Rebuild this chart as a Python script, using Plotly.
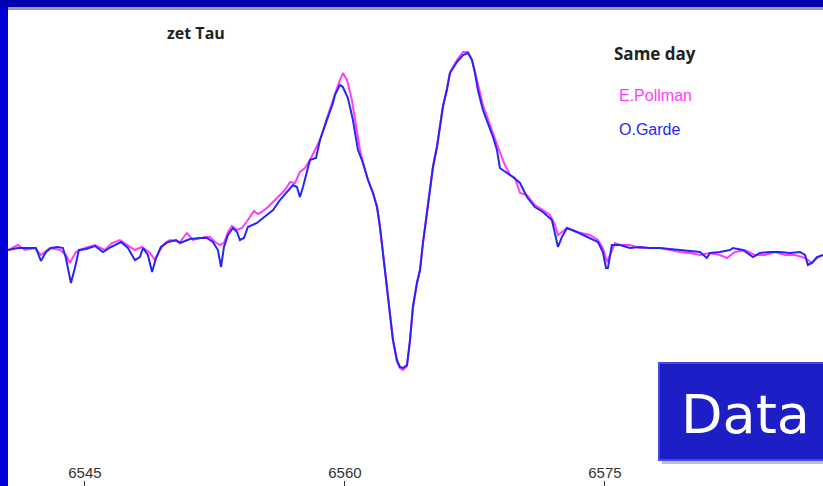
import plotly.graph_objects as go

# O.Garde spectrum (wavelength in Angstrom, relative flux)
garde_wl = [6540.56, 6541.13, 6541.71, 6542.17, 6542.46, 6542.75, 6543.04, 6543.44, 6543.73, 6543.90,
            6544.19, 6544.42, 6544.65, 6545.06, 6545.58, 6546.04, 6546.50, 6547.08, 6547.48, 6547.88,
            6548.17, 6548.35, 6548.63, 6548.87, 6549.10, 6549.38, 6549.79, 6550.25, 6550.48, 6551.06,
            6551.63, 6552.04, 6552.38, 6552.67, 6552.85, 6553.02, 6553.25, 6553.54, 6553.77, 6553.94,
            6554.17, 6554.40, 6554.92, 6555.50, 6555.85, 6556.25, 6556.65, 6557.00, 6557.23, 6557.40,
            6557.58, 6557.81, 6557.98, 6558.33, 6558.56, 6558.96, 6559.31, 6559.42, 6559.71, 6559.88,
            6560.17, 6560.46, 6560.75, 6561.04, 6561.33, 6561.62, 6561.85, 6562.02, 6562.19, 6562.42,
            6562.60, 6562.77, 6563.00, 6563.17, 6563.35, 6563.58, 6563.75, 6563.92, 6564.15, 6564.33,
            6564.50, 6564.73, 6564.90, 6565.08, 6565.31, 6565.48, 6565.65, 6565.88, 6566.06, 6566.46,
            6566.81, 6567.10, 6567.33, 6567.50, 6567.67, 6567.96, 6568.25, 6568.54, 6568.77, 6568.94,
            6569.35, 6569.69, 6570.10, 6570.50, 6570.96, 6571.42, 6571.94, 6572.12, 6572.29, 6572.52,
            6572.81, 6573.38, 6573.96, 6574.60, 6574.88, 6575.06, 6575.17, 6575.40, 6575.87, 6576.44,
            6577.02, 6577.60, 6578.17, 6578.75, 6579.33, 6579.90, 6580.48, 6580.88, 6581.06, 6581.63,
            6582.21, 6582.38, 6582.96, 6583.54, 6583.94, 6584.52, 6585.10, 6585.67, 6586.25, 6586.54,
            6586.71, 6586.94, 6587.23, 6587.58]
garde_flux = [0.990, 1.000, 1.000, 1.000, 0.935, 0.980, 1.000, 1.005, 1.000, 0.950,
              0.825, 0.900, 0.990, 0.995, 1.010, 0.980, 1.005, 1.030, 1.000, 0.940,
              0.955, 1.000, 0.965, 0.880, 0.950, 1.005, 1.030, 1.040, 1.025, 1.045,
              1.050, 1.050, 1.030, 0.990, 0.905, 1.005, 1.065, 1.100, 1.080, 1.040,
              1.050, 1.105, 1.125, 1.165, 1.190, 1.240, 1.280, 1.315, 1.305, 1.255,
              1.305, 1.390, 1.440, 1.450, 1.540, 1.640, 1.725, 1.765, 1.815, 1.805,
              1.750, 1.640, 1.490, 1.425, 1.340, 1.275, 1.205, 1.105, 0.975, 0.825,
              0.675, 0.540, 0.440, 0.405, 0.400, 0.415, 0.540, 0.705, 0.825, 0.890,
              1.025, 1.175, 1.290, 1.405, 1.505, 1.605, 1.705, 1.790, 1.875, 1.930,
              1.965, 1.975, 1.940, 1.875, 1.790, 1.690, 1.625, 1.555, 1.490, 1.400,
              1.375, 1.355, 1.325, 1.255, 1.205, 1.180, 1.140, 1.075, 1.005, 1.055,
              1.100, 1.080, 1.055, 1.030, 0.980, 0.900, 0.900, 1.015, 1.015, 1.000,
              1.005, 1.000, 1.000, 0.995, 0.990, 0.985, 0.980, 0.950, 0.975, 0.980,
              0.990, 1.000, 0.990, 0.955, 0.975, 0.980, 0.980, 0.975, 0.980, 0.965,
              0.915, 0.925, 0.955, 0.965]

# E.Pollman spectrum
pollman_wl = [6540.56, 6541.13, 6541.54, 6542.12, 6542.46, 6542.98, 6543.56, 6543.90, 6544.13, 6544.48,
              6545.00, 6545.58, 6546.15, 6546.56, 6547.02, 6547.48, 6547.88, 6548.29, 6548.75, 6549.04,
              6549.33, 6549.62, 6549.90, 6550.48, 6550.88, 6551.23, 6551.92, 6552.21, 6552.50, 6552.79,
              6553.02, 6553.25, 6553.48, 6553.77, 6554.06, 6554.40, 6554.75, 6554.98, 6555.21, 6555.56,
              6555.85, 6556.25, 6556.54, 6556.83, 6557.12, 6557.40, 6557.69, 6557.98, 6558.27, 6558.56,
              6558.96, 6559.31, 6559.60, 6559.88, 6560.12, 6560.40, 6560.69, 6560.87, 6561.04, 6561.33,
              6561.62, 6561.85, 6562.02, 6562.19, 6562.42, 6562.60, 6562.77, 6563.00, 6563.17, 6563.35,
              6563.58, 6563.75, 6563.92, 6564.15, 6564.33, 6564.50, 6564.73, 6564.90, 6565.08, 6565.31,
              6565.48, 6565.65, 6565.88, 6566.06, 6566.46, 6566.81, 6567.10, 6567.33, 6567.62, 6567.96,
              6568.37, 6568.77, 6568.94, 6569.23, 6569.52, 6569.81, 6570.10, 6570.50, 6570.96, 6571.42,
              6571.83, 6572.12, 6572.29, 6572.52, 6572.81, 6573.38, 6574.13, 6574.60, 6574.88, 6575.12,
              6575.35, 6575.58, 6575.87, 6576.44, 6577.02, 6577.60, 6578.17, 6578.75, 6579.33, 6579.90,
              6580.48, 6581.06, 6581.63, 6582.04, 6582.50, 6583.08, 6583.65, 6584.23, 6584.81, 6585.38,
              6585.96, 6586.54, 6586.94, 6587.23, 6587.58]
pollman_flux = [0.990, 1.015, 0.990, 1.000, 0.965, 1.000, 0.990, 0.965, 0.925, 0.980,
                1.000, 1.015, 0.990, 1.025, 1.040, 1.015, 0.990, 1.005, 0.975, 0.940,
                0.990, 1.025, 1.040, 1.030, 1.075, 1.040, 1.055, 1.055, 1.030, 1.015,
                1.025, 1.080, 1.110, 1.090, 1.100, 1.140, 1.185, 1.170, 1.180, 1.205,
                1.230, 1.260, 1.290, 1.330, 1.325, 1.380, 1.400, 1.440, 1.490, 1.540,
                1.650, 1.740, 1.815, 1.875, 1.840, 1.740, 1.590, 1.490, 1.425, 1.340,
                1.275, 1.205, 1.105, 0.975, 0.825, 0.675, 0.540, 0.430, 0.400, 0.390,
                0.410, 0.530, 0.700, 0.820, 0.890, 1.025, 1.180, 1.295, 1.410, 1.510,
                1.610, 1.710, 1.795, 1.880, 1.940, 1.980, 1.980, 1.940, 1.840, 1.715,
                1.615, 1.515, 1.480, 1.415, 1.365, 1.350, 1.275, 1.265, 1.215, 1.190,
                1.165, 1.115, 1.065, 1.080, 1.100, 1.080, 1.065, 1.040, 1.000, 0.930,
                0.980, 1.025, 1.015, 1.015, 1.000, 1.000, 1.000, 0.990, 0.980, 0.975,
                0.965, 0.975, 0.965, 0.950, 0.980, 0.990, 0.965, 0.965, 0.980, 0.965,
                0.965, 0.950, 0.925, 0.950, 0.965]

tick_vals = [6545, 6560, 6575]
tick_text = ["6545", "6560", "6575"]
title_text = "zet Tau"
legend_title = "Same day"
names = ["E.Pollman", "O.Garde"]

fig = go.Figure()
fig.add_trace(go.Scatter(x=pollman_wl, y=pollman_flux, mode="lines", name=names[0],
                         line=dict(color="#ff3cff", width=2), showlegend=False))
fig.add_trace(go.Scatter(x=garde_wl, y=garde_flux, mode="lines", name=names[1],
                         line=dict(color="#2626f4", width=2), showlegend=False))

W, H = 823, 486
L, T = 8, 8
PW, PH = W - L, H - T


def px(x):
    return (x - L) / PW


def py(y):
    return 1 - (y - T) / PH


shapes = [
    # top dark bar and its shadow
    dict(type="rect", xref="paper", yref="paper", x0=px(0), x1=px(W), y0=py(7), y1=py(0),
         fillcolor="#0000b0", line=dict(width=0), layer="above"),
    dict(type="rect", xref="paper", yref="paper", x0=px(8), x1=px(W), y0=py(10), y1=py(7),
         fillcolor="#9a9aa0", line=dict(width=0), layer="above"),
    # Data box shadow and box
    dict(type="rect", xref="paper", yref="paper", x0=px(662), x1=px(W + 5), y0=py(464), y1=py(367),
         fillcolor="rgba(0,0,0,0.25)", line=dict(width=0), layer="above"),
    dict(type="rect", xref="paper", yref="paper", x0=px(659), x1=px(W + 5), y0=py(460), y1=py(363),
         fillcolor="#1e1ec6", line=dict(color="#4848e0", width=2), layer="above"),
]

annotations = [
    dict(text=f"<b>{title_text}</b>", x=px(165), y=py(33), xref="paper", yref="paper",
         xanchor="left", yanchor="middle", showarrow=False,
         font=dict(family="Open Sans, Liberation Sans, sans-serif", size=16, color="#222222")),
    dict(text=f"<b>{legend_title}</b>", x=px(612), y=py(53), xref="paper", yref="paper",
         xanchor="left", yanchor="middle", showarrow=False,
         font=dict(family="Open Sans, Liberation Sans, sans-serif", size=17, color="#222222")),
    dict(text=names[0], x=px(617), y=py(95), xref="paper", yref="paper",
         xanchor="left", yanchor="middle", showarrow=False,
         font=dict(family="Liberation Sans, Arial, sans-serif", size=16, color="#ff3cff")),
    dict(text=names[1], x=px(617), y=py(129), xref="paper", yref="paper",
         xanchor="left", yanchor="middle", showarrow=False,
         font=dict(family="Liberation Sans, Arial, sans-serif", size=16, color="#2626f4")),
    dict(text="Data", x=px(745), y=py(414), xref="paper", yref="paper",
         xanchor="center", yanchor="middle", showarrow=False,
         font=dict(family="DejaVu Sans, sans-serif", size=54, color="#ffffff")),
]

fig.update_layout(
    width=W, height=H,
    margin=dict(l=L, r=0, t=T, b=0, pad=0, autoexpand=False),
    paper_bgcolor="#0000d8",
    plot_bgcolor="#ffffff",
    shapes=shapes,
    annotations=annotations,
    showlegend=False,
    xaxis=dict(range=[6540.56, 6587.58], tickvals=tick_vals, ticktext=tick_text,
               ticks="inside", ticklen=5, tickcolor="#333333", tickwidth=1,
               ticklabelposition="inside",
               tickfont=dict(family="Liberation Sans Narrow, Liberation Sans, sans-serif", size=15,
                             color="#333333"),
               showgrid=False, zeroline=False, showline=False),
    yaxis=dict(range=[-0.19, 2.20], showticklabels=False, ticks="", showgrid=False,
               zeroline=False, showline=False),
)

fig.write_html("out.html",
               config={"displayModeBar": False},
               post_script="document.body.style.margin='0';document.body.style.overflow='hidden';")
